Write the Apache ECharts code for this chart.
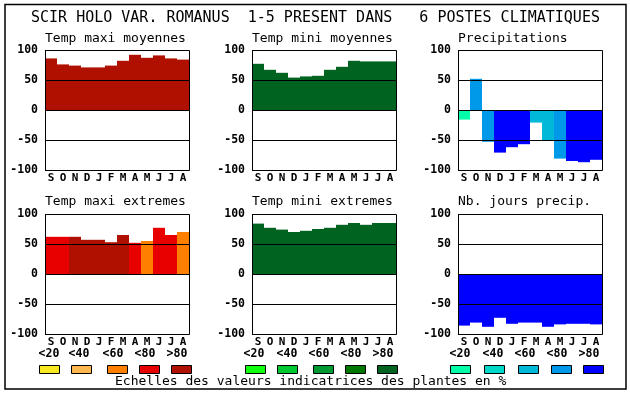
<!DOCTYPE html>
<html><head><meta charset="utf-8">
<script src="https://cdn.jsdelivr.net/npm/echarts@6/dist/echarts.min.js"></script>
<style>html,body{margin:0;padding:0;background:#fff}#c{width:630px;height:394px}</style>
</head><body><div id="c"></div>
<script>
const months = ['S','O','N','D','J','F','M','A','M','J','J','A'];
const legendLabels = ['<20','<40','<60','<80','>80'];
const redScale = ['#F8E820','#FFB850','#FF8000','#E80000','#B01000'];
const greenScale = ['#10FF10','#00C830','#009830','#007800','#006420'];
const blueScale = ['#00FFA8','#00D8C8','#00B8D8','#0098E8','#0000FF'];

const maxiMoy = [86,76,74,71,71,74,82,92,87,91,86,84];
const maxiMoyClass = [5,5,5,5,5,5,5,5,5,5,5,5];
const miniMoy = [77,67,62,54,56,57,67,72,82,81,81,81];
const miniMoyClass = [5,5,5,5,5,5,5,5,5,5,5,5];
const precip = [-16,52,-53,-71,-62,-57,-21,-50,-81,-85,-87,-83];
const precipClass = [1,4,4,5,5,5,3,3,4,5,5,5];
const maxiExt = [62,62,62,57,57,53,65,52,55,77,65,70];
const maxiExtClass = [4,4,5,5,5,5,5,4,3,4,4,3];
const miniExt = [84,77,74,70,72,75,77,82,85,82,85,85];
const miniExtClass = [5,5,5,5,5,5,5,5,5,5,5,5];
const nbJours = [-86,-81,-88,-73,-83,-81,-81,-88,-84,-83,-83,-84];
const nbJoursClass = [5,5,5,5,5,5,5,5,5,5,5,5];

const panels = [
  {title:'Temp maxi moyennes', vals:maxiMoy, cls:maxiMoyClass, scale:redScale},
  {title:'Temp mini moyennes', vals:miniMoy, cls:miniMoyClass, scale:greenScale},
  {title:'Precipitations', vals:precip, cls:precipClass, scale:blueScale},
  {title:'Temp maxi extremes', vals:maxiExt, cls:maxiExtClass, scale:redScale},
  {title:'Temp mini extremes', vals:miniExt, cls:miniExtClass, scale:greenScale},
  {title:'Nb. jours precip.', vals:nbJours, cls:nbJoursClass, scale:blueScale}
];
const colLeft = [45, 252, 458];
const rowTop = [50, 214];
const W = 144, H = 120;
const legendBoxX = [[39,71,107,139,171],[245,277,313,345,377],[450,484,518,551,583]];
const legendLabelX = [[49,79,113,145,177],[254,287,319,351,383],[460,493,525,557,589]];

const mono = "'DejaVu Sans Mono', 'Liberation Mono', monospace";
const grids = [], xAxes = [], yAxes = [], series = [], graphics = [];

panels.forEach((p, i) => {
  const col = i % 3, row = Math.floor(i / 3);
  const left = colLeft[col], top = rowTop[row];
  grids.push({left: left, top: top, width: W, height: H, show: false});
  xAxes.push({type:'category', gridIndex:i, data:months, boundaryGap:true,
    axisLine:{show:false}, axisTick:{show:false}, splitLine:{show:false},
    axisLabel:{interval:0, margin:3, color:'#000', fontFamily:mono, fontWeight:'bold', fontSize:11}});
  yAxes.push({type:'value', gridIndex:i, min:-100, max:100, interval:50, z:5,
    axisLine:{show:false}, axisTick:{show:false},
    splitLine:{show:true, lineStyle:{color:'#000', width:1}},
    axisLabel:{margin:7, color:'#000', fontFamily:mono, fontWeight:'bold', fontSize:11.5}});
  series.push({type:'bar', xAxisIndex:i, yAxisIndex:i, barCategoryGap:'0%', barGap:'0%',
    animation:false, silent:true,
    data: p.vals.map((v, k) => ({value:v, itemStyle:{color:p.scale[p.cls[k]-1]}}))});
  graphics.push({type:'rect', z:100, shape:{x:left+0.5, y:top+0.5, width:W, height:H},
    style:{fill:null, stroke:'#000', lineWidth:1}});
  graphics.push({type:'text', z:100, x:left, y: row === 0 ? 38.5 : 202,
    style:{text:p.title, font:"13px " + mono, fill:'#000', textAlign:'left', textVerticalAlign:'middle', verticalAlign:'middle'}});
});

const scales = [redScale, greenScale, blueScale];
for (let c = 0; c < 3; c++) {
  for (let k = 0; k < 5; k++) {
    graphics.push({type:'rect', z:100, shape:{x:legendBoxX[c][k]+0.5, y:365.5, width:20, height:8},
      style:{fill:scales[c][k], stroke:'#000', lineWidth:1}});
    graphics.push({type:'text', z:100, x:legendLabelX[c][k], y:354.5,
      style:{text:legendLabels[k], font:"bold 11.5px " + mono, fill:'#000', textAlign:'center', textVerticalAlign:'middle', verticalAlign:'middle'}});
  }
}
graphics.push({type:'text', z:100, x:31, y:18,
  style:{text:'SCIR HOLO VAR. ROMANUS  1-5 PRESENT DANS   6 POSTES CLIMATIQUES', font:"15px " + mono, fill:'#000', textAlign:'left', textVerticalAlign:'middle', verticalAlign:'middle'}});
graphics.push({type:'text', z:100, x:115, y:382,
  style:{text:'Echelles des valeurs indicatrices des plantes en %', font:"13px " + mono, fill:'#000', textAlign:'left', textVerticalAlign:'middle', verticalAlign:'middle'}});
graphics.push({type:'rect', z:100, shape:{x:5, y:4.5, width:621, height:384.5},
  style:{fill:null, stroke:'#000', lineWidth:1.5}});

const chart = echarts.init(document.getElementById('c'), null, {renderer:'canvas'});
chart.setOption({backgroundColor:'#fff', animation:false, grid:grids, xAxis:xAxes, yAxis:yAxes, series:series, graphic:graphics});
</script></body></html>
